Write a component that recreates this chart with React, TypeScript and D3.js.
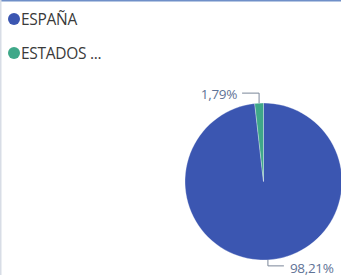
import * as d3 from "d3";
import { useRef } from "react";

// chart data
const countries = ["ESPAÑA", "ESTADOS UNIDOS"];
const legendLabels = ["ESPAÑA", "ESTADOS ..."];
const shares = [98.21, 1.79];
const shareLabels = ["98,21%", "1,79%"];
const colors = ["#3b56b1", "#3fa889"];

export default function App() {
  const svgRef = useRef(null);
  const W = 341;
  const H = 275;
  const cx = 263.5;
  const cy = 181.5;
  const r = 78.5;

  const pie = d3.pie<number>().sort(null).value((d) => d);
  const arcs = pie(shares);
  const arcGen = d3.arc<d3.PieArcDatum<number>>().innerRadius(0).outerRadius(r);

  const leader = (a: d3.PieArcDatum<number>) => {
    const mid = (a.startAngle + a.endAngle) / 2;
    const px = Math.sin(mid) * r;
    const py = -Math.cos(mid) * r;
    const ey = py + (py < 0 ? -10 : 6);
    // labels at bottom go to the right, labels at top go to the left
    const goRight = py > 0;
    const hx = goRight ? px + 16 : px - 17;
    return { px, py, ey, hx, goRight };
  };

  return (
    <div style={{ position: "fixed", left: 0, top: 0, width: W, height: H, overflow: "hidden", background: "#fff" }}>
      <svg ref={svgRef} width={W} height={H} style={{ display: "block", fontFamily: "'Open Sans', 'Noto Sans', sans-serif" }}>
        <rect x={0} y={0} width={W} height={H} fill="#fff" />
        <rect x={0} y={0} width={W} height={1.5} fill="#6f8fc8" />
        <rect x={0} y={0} width={1.5} height={H} fill="#d8dde6" />

        {legendLabels.map((l, i) => (
          <g key={countries[i]} transform={`translate(0, ${19 + i * 34})`}>
            <circle cx={14} cy={0} r={6} fill={colors[i]} />
            <text x={21} y={0} dy="0.36em" fontSize={15.5} fill="#3a3a3a" letterSpacing={-0.3}>
              {l}
            </text>
          </g>
        ))}

        <g transform={`translate(${cx}, ${cy})`}>
          {arcs.map((a, i) => (
            <path key={countries[i]} d={arcGen(a) ?? ""} fill={colors[i]} stroke="#fff" strokeWidth={0.3} />
          ))}
          {arcs.map((a, i) => {
            const l = leader(a);
            return (
              <g key={"lbl" + i}>
                <polyline
                  points={`${l.px},${l.py} ${l.px},${l.ey} ${l.hx},${l.ey}`}
                  fill="none"
                  stroke="#7a8699"
                  strokeWidth={1}
                />
                <text
                  x={l.goRight ? l.hx + 6 : l.hx - 5}
                  y={l.ey}
                  dy={l.goRight ? "0.55em" : "0.45em"}
                  textAnchor={l.goRight ? "start" : "end"}
                  fontSize={13.5}
                  fill="#5f7396"
                  letterSpacing={-0.3}
                >
                  {shareLabels[i]}
                </text>
              </g>
            );
          })}
        </g>
      </svg>
    </div>
  );
}
